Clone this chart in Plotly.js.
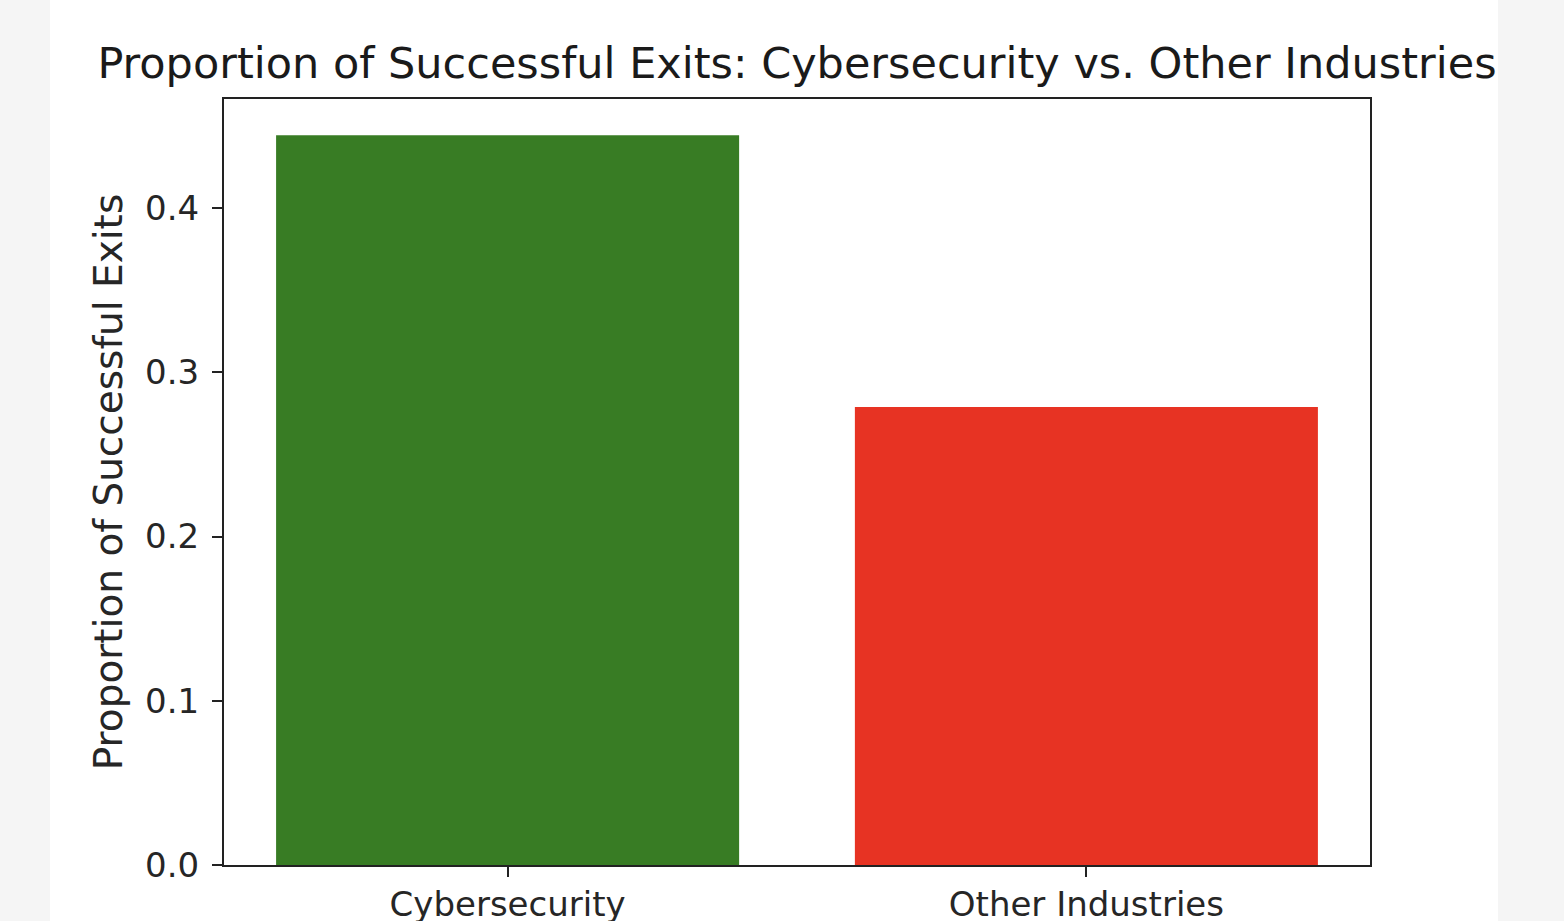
<!DOCTYPE html>
<html>
<head>
<meta charset="utf-8">
<script src="https://cdn.plot.ly/plotly-3.0.1.min.js"></script>
<style>html,body{margin:0;padding:0;background:#f5f5f5;}#chart{width:1564px;height:921px;}</style>
</head>
<body>
<div id="chart"></div>
<script>
const categories = ["Cybersecurity", "Other Industries"];
const proportions = [0.4444, 0.2788];
const barColors = ["#387c24", "#e73323"];
const yTicks = [0.0, 0.1, 0.2, 0.3, 0.4];
const yTickLabels = ["0.0", "0.1", "0.2", "0.3", "0.4"];

const font = "DejaVu Sans, sans-serif";
const trace = {
  type: "bar",
  x: [0, 1],
  y: proportions,
  width: 0.8,
  marker: {color: barColors, line: {width: 0}},
  hoverinfo: "x+y"
};
const layout = {
  width: 1564, height: 921,
  margin: {l: 224, r: 194, t: 99, b: 56},
  paper_bgcolor: "#f5f5f5",
  plot_bgcolor: "#ffffff",
  showlegend: false,
  bargap: 0.2,
  font: {family: font, color: "#262626"},
  title: {
    text: "Proportion of Successful Exits: Cybersecurity vs. Other Industries",
    font: {family: font, size: 43, color: "#1a1a1a"},
    x: 0.5, xref: "paper", xanchor: "center",
    y: 1 - 63/921, yref: "container", yanchor: "middle"
  },
  xaxis: {
    range: [-0.49, 1.49],
    tickmode: "array", tickvals: [0, 1], ticktext: categories,
    ticks: "outside", ticklen: 10, tickwidth: 2, tickcolor: "#222",
    ticklabelstandoff: -2,
    showline: true, linecolor: "#222", linewidth: 2, mirror: true,
    showgrid: false, zeroline: false,
    tickfont: {family: font, size: 34, color: "#262626"},
    fixedrange: true
  },
  yaxis: {
    range: [0, 0.4664],
    tickmode: "array", tickvals: yTicks, ticktext: yTickLabels,
    ticks: "outside", ticklen: 10, tickwidth: 2, tickcolor: "#222",
    ticklabelstandoff: 6,
    showline: true, linecolor: "#222", linewidth: 2, mirror: true,
    showgrid: false, zeroline: false,
    tickfont: {family: font, size: 34, color: "#262626"},
    title: {text: "Proportion of Successful Exits", font: {family: font, size: 39, color: "#262626"}, standoff: 10},
    fixedrange: true
  },
  shapes: [{
    type: "rect", xref: "paper", yref: "paper", layer: "below",
    x0: (50-224)/1146, x1: (1498-224)/1146, y0: -1, y1: 2,
    fillcolor: "#ffffff", line: {width: 0}
  }]
};
Plotly.newPlot("chart", [trace], layout, {displayModeBar: false, staticPlot: true});
</script>
</body>
</html>
